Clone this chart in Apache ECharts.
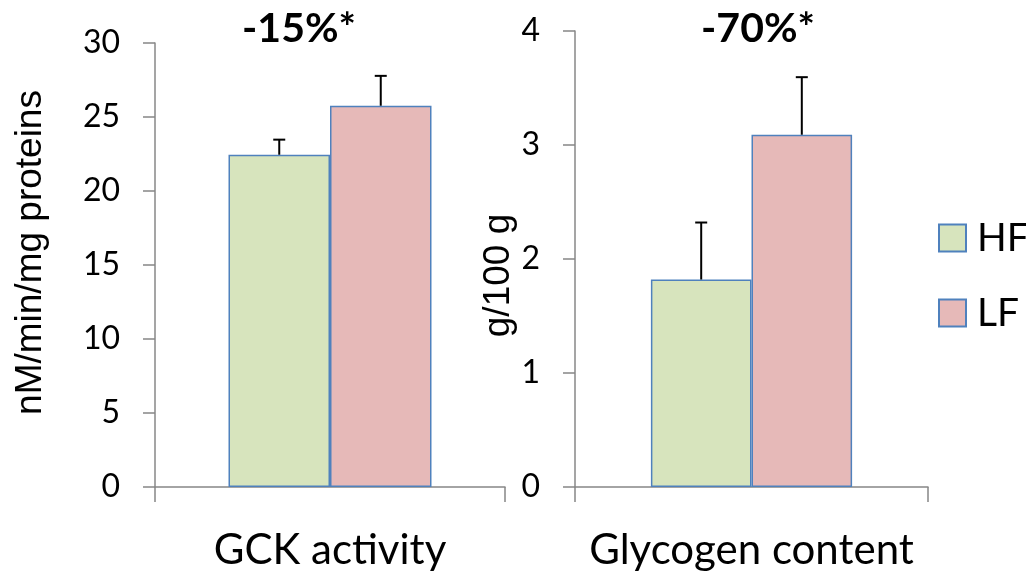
<!DOCTYPE html>
<html>
<head>
<meta charset="utf-8">
<script src="https://cdn.jsdelivr.net/npm/echarts@6/dist/echarts.min.js"></script>
<style>
html,body{margin:0;padding:0;background:#fff;}
#chart{width:1026px;height:571px;}
</style>
</head>
<body>
<div id="chart"></div>
<script>
// ---- data ----
const groupNames = ['HF', 'LF'];
const gckCategories = ['GCK activity'];
const glyCategories = ['Glycogen content'];
const gckMean = [22.45, 25.76];
const gckErr = [1.02, 2.02];
const glyMean = [1.82, 3.09];
const glyErr = [0.50, 0.505];
const annotations = ['-15%*', '-70%*'];
const gckAxisName = 'nM/min/mg proteins';
const glyAxisName = 'g/100 g';
const gckRange = [0, 30, 5];
const glyRange = [0, 4, 1];

// ---- style ----
const fills = ['#D7E4BD', '#E6B9B8'];
const borderBlue = '#4F81BD';
const axisGray = '#878787';
const gapLeft = 0.42, gapRight = 0.43;

function errRenderer(gapRatio) {
  return function (params, api) {
    const cat = api.value(0);
    const grp = api.value(3);
    const lowP = api.coord([cat, api.value(1)]);
    const highP = api.coord([cat, api.value(2)]);
    const catW = api.size([1, 0])[0];
    const bw = catW * (1 - gapRatio) / 2;
    const x = lowP[0] + (grp === 0 ? -bw / 2 : bw / 2);
    const cap = 6;
    const st = { stroke: '#000', lineWidth: 2 };
    return {
      type: 'group',
      children: [
        { type: 'line', shape: { x1: x, y1: lowP[1], x2: x, y2: highP[1] }, style: st },
        { type: 'line', shape: { x1: x - cap, y1: highP[1], x2: x + cap, y2: highP[1] }, style: st }
      ]
    };
  };
}

function errData(mean, err) {
  return mean.map((m, i) => [0, m, m + err[i], i]);
}

const xAxisCommon = {
  type: 'category',
  axisLine: { lineStyle: { color: axisGray, width: 1.5 } },
  axisTick: { show: true, length: 15, lineStyle: { color: axisGray, width: 1.5 } },
  axisLabel: { fontSize: 42, color: '#000', fontFamily: 'Lato', margin: 42 }
};
const yAxisCommon = {
  type: 'value',
  axisLine: { show: true, lineStyle: { color: axisGray, width: 1.5 } },
  axisTick: { show: true, length: 12, lineStyle: { color: axisGray, width: 1.5 } },
  splitLine: { show: false },
  axisLabel: { fontSize: 32, color: '#000', fontFamily: 'Lato', margin: 35 },
  nameLocation: 'middle',
  nameRotate: 90
};

const option = {
  backgroundColor: '#fff',
  animation: false,
  grid: [
    { left: 155, top: 43, width: 350, height: 445 },
    { left: 575, top: 31, width: 353, height: 457 }
  ],
  xAxis: [
    Object.assign({}, xAxisCommon, { gridIndex: 0, data: gckCategories }),
    Object.assign({}, xAxisCommon, { gridIndex: 1, data: glyCategories })
  ],
  yAxis: [
    Object.assign({}, yAxisCommon, {
      gridIndex: 0, min: gckRange[0], max: gckRange[1], interval: gckRange[2],
      name: gckAxisName, nameGap: 106,
      nameTextStyle: { fontSize: 37, color: '#000', fontFamily: 'Liberation Sans', padding: [0, 0, 0, 25] }
    }),
    Object.assign({}, yAxisCommon, {
      gridIndex: 1, min: glyRange[0], max: glyRange[1], interval: glyRange[2],
      name: glyAxisName, nameGap: 52,
      nameTextStyle: { fontSize: 37, color: '#000', fontFamily: 'Liberation Sans', padding: [0, 33, 0, 0] }
    })
  ],
  legend: {
    data: groupNames,
    orient: 'vertical',
    left: 933,
    top: 208,
    itemWidth: 27,
    itemHeight: 27,
    itemGap: 25,
    icon: 'rect',
    textStyle: { fontSize: 39, color: '#000', fontFamily: 'Lato', lineHeight: 50, padding: [0, 0, 0, 6] }
  },
  graphic: [
    { type: 'text', style: { x: 299, y: 29, text: annotations[0], font: 'bold 41px Lato', fill: '#000', textAlign: 'center', textVerticalAlign: 'middle' } },
    { type: 'text', style: { x: 758, y: 29, text: annotations[1], font: 'bold 41px Lato', fill: '#000', textAlign: 'center', textVerticalAlign: 'middle' } }
  ],
  series: [
    { name: groupNames[0], type: 'bar', xAxisIndex: 0, yAxisIndex: 0, data: [gckMean[0]], barGap: '0%', barCategoryGap: (gapLeft * 100) + '%',
      itemStyle: { color: fills[0], borderColor: borderBlue, borderWidth: 1.5 } },
    { name: groupNames[1], type: 'bar', xAxisIndex: 0, yAxisIndex: 0, data: [gckMean[1]], barGap: '0%', barCategoryGap: (gapLeft * 100) + '%',
      itemStyle: { color: fills[1], borderColor: borderBlue, borderWidth: 1.5 } },
    { name: groupNames[0], type: 'bar', xAxisIndex: 1, yAxisIndex: 1, data: [glyMean[0]], barGap: '0%', barCategoryGap: (gapRight * 100) + '%',
      itemStyle: { color: fills[0], borderColor: borderBlue, borderWidth: 1.5 } },
    { name: groupNames[1], type: 'bar', xAxisIndex: 1, yAxisIndex: 1, data: [glyMean[1]], barGap: '0%', barCategoryGap: (gapRight * 100) + '%',
      itemStyle: { color: fills[1], borderColor: borderBlue, borderWidth: 1.5 } },
    { type: 'custom', xAxisIndex: 0, yAxisIndex: 0, renderItem: errRenderer(gapLeft), data: errData(gckMean, gckErr),
      encode: { x: 0, y: [1, 2] }, z: 5, silent: true },
    { type: 'custom', xAxisIndex: 1, yAxisIndex: 1, renderItem: errRenderer(gapRight), data: errData(glyMean, glyErr),
      encode: { x: 0, y: [1, 2] }, z: 5, silent: true }
  ]
};

const chart = echarts.init(document.getElementById('chart'), null, { renderer: 'canvas' });
chart.setOption(option);
</script>
</body>
</html>
